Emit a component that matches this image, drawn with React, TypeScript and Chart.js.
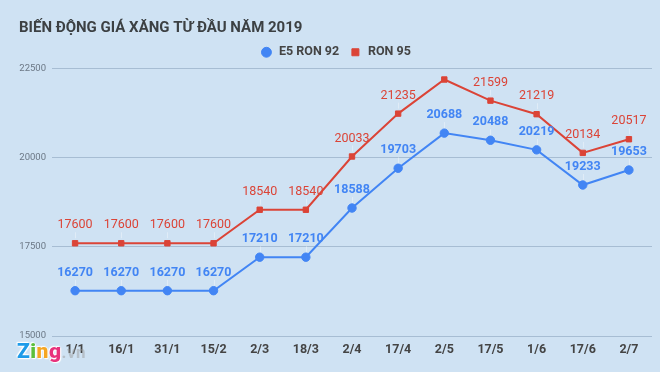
import React, { useEffect, useRef } from 'react';
import { Chart, registerables } from 'chart.js';

Chart.register(...registerables);

const titleText = 'BIẾN ĐỘNG GIÁ XĂNG TỪ ĐẦU NĂM 2019';
const categories = ['1/1', '16/1', '31/1', '15/2', '2/3', '18/3', '2/4', '17/4', '2/5', '17/5', '1/6', '17/6', '2/7'];
const e5Ron92 = [16270, 16270, 16270, 16270, 17210, 17210, 18588, 19703, 20688, 20488, 20219, 19233, 19653];
const ron95 = [17600, 17600, 17600, 17600, 18540, 18540, 20033, 21235, 22191, 21599, 21219, 20134, 20517];
const yMin = 15000;
const yMax = 22500;
const yStep = 2500;

const BG = '#cfe2f3';
const BLUE = '#4285f4';
const RED = '#db4437';
const FONT = 'Roboto';

const valueLabels = {
  id: 'valueLabels',
  afterDatasetsDraw(chart: any) {
    const ctx = chart.ctx;
    const area = chart.chartArea;
    chart.data.datasets.forEach((ds: any, di: number) => {
      const meta = chart.getDatasetMeta(di);
      meta.data.forEach((pt: any, i: number) => {
        const y = pt.y - 18;
        if (y - 6 < area.top) return;
        ctx.save();
        ctx.strokeStyle = 'rgba(255,255,255,0.35)';
        ctx.lineWidth = 1;
        ctx.beginPath();
        ctx.moveTo(Math.round(pt.x) + 0.5, y + 7);
        ctx.lineTo(Math.round(pt.x) + 0.5, pt.y - 5);
        ctx.stroke();
        ctx.font = `${ds.labelWeight} 12.5px ${FONT}`;
        ctx.fillStyle = ds.borderColor;
        ctx.textAlign = 'center';
        ctx.textBaseline = 'middle';
        ctx.fillText(String(ds.data[i]), pt.x, y);
        ctx.restore();
      });
    });
  },
};

export default function App() {
  const ref = useRef<HTMLCanvasElement | null>(null);
  useEffect(() => {
    document.body.style.margin = '0';
    const canvas = ref.current;
    if (!canvas) return;
    const chart = new Chart(canvas, {
      type: 'line',
      data: {
        labels: categories,
        datasets: [
          {
            label: 'E5 RON 92',
            data: e5Ron92,
            borderColor: BLUE,
            backgroundColor: BLUE,
            borderWidth: 2,
            pointStyle: 'circle',
            pointRadius: 4.2,
            pointBorderWidth: 1,
            tension: 0,
            labelWeight: 'bold',
          } as any,
          {
            label: 'RON 95',
            data: ron95,
            borderColor: RED,
            backgroundColor: RED,
            borderWidth: 2,
            pointStyle: 'rect',
            pointRadius: 3.8,
            pointBorderWidth: 1,
            tension: 0,
            labelWeight: 'normal',
          } as any,
        ],
      },
      options: {
        responsive: false,
        animation: false,
        layout: { padding: { left: 19, right: 8, top: 0, bottom: 9 } },
        plugins: {
          title: {
            display: true,
            text: titleText,
            align: 'start',
            color: '#3c4043',
            font: { family: FONT, size: 15, weight: 'bold', lineHeight: 1 },
            padding: { top: 21, bottom: 0 },
          },
          legend: {
            display: true,
            position: 'top',
            labels: {
              usePointStyle: true,
              boxHeight: 7,
              color: '#444',
              font: { family: FONT, size: 12.5, weight: 'bold' },
              padding: 10,
            },
          },
          tooltip: { enabled: false },
        },
        scales: {
          x: {
            offset: true,
            grid: { display: false, drawTicks: false },
            border: { display: false },
            ticks: {
              color: '#444',
              font: { family: FONT, size: 12.5, weight: 'bold' },
              padding: 6,
              maxRotation: 0,
              autoSkip: false,
            },
          },
          y: {
            min: yMin,
            max: yMax,
            afterFit: (scale: any) => {
              scale.width = 33;
            },
            grid: { color: '#a7bdd3', lineWidth: 1, drawTicks: false },
            border: { display: false },
            ticks: {
              stepSize: yStep,
              color: '#6b7785',
              font: { family: FONT, size: 9.5 },
              padding: 6,
              callback: (v: any) => String(v),
            },
          },
        },
      },
      plugins: [valueLabels],
    });
    return () => chart.destroy();
  }, []);

  const zing = [
    { ch: 'Z', c: '#1e9be9' },
    { ch: 'i', c: '#5cbf3b' },
    { ch: 'n', c: '#f5a623' },
    { ch: 'g', c: '#e8327c' },
  ];

  return (
    <div style={{ position: 'relative', width: 660, height: 372, background: BG, overflow: 'hidden' }}>
      <canvas ref={ref} width={660} height={372} style={{ display: 'block' }} />
      <div
        style={{
          position: 'absolute',
          left: 17,
          top: 339,
          fontFamily: FONT,
          fontWeight: 900,
          fontSize: 21,
          lineHeight: '24px',
          letterSpacing: 0.5,
          textShadow: '0 0 2px #fff, 0 0 2px #fff, 1px 1px 1px #fff, -1px -1px 1px #fff',
        }}
      >
        {zing.map((z) => (
          <span key={z.ch} style={{ color: z.c }}>{z.ch}</span>
        ))}
        <span style={{ color: 'rgba(150,150,150,0.45)', fontWeight: 700, fontSize: 17, textShadow: 'none' }}>.vn</span>
      </div>
    </div>
  );
}
